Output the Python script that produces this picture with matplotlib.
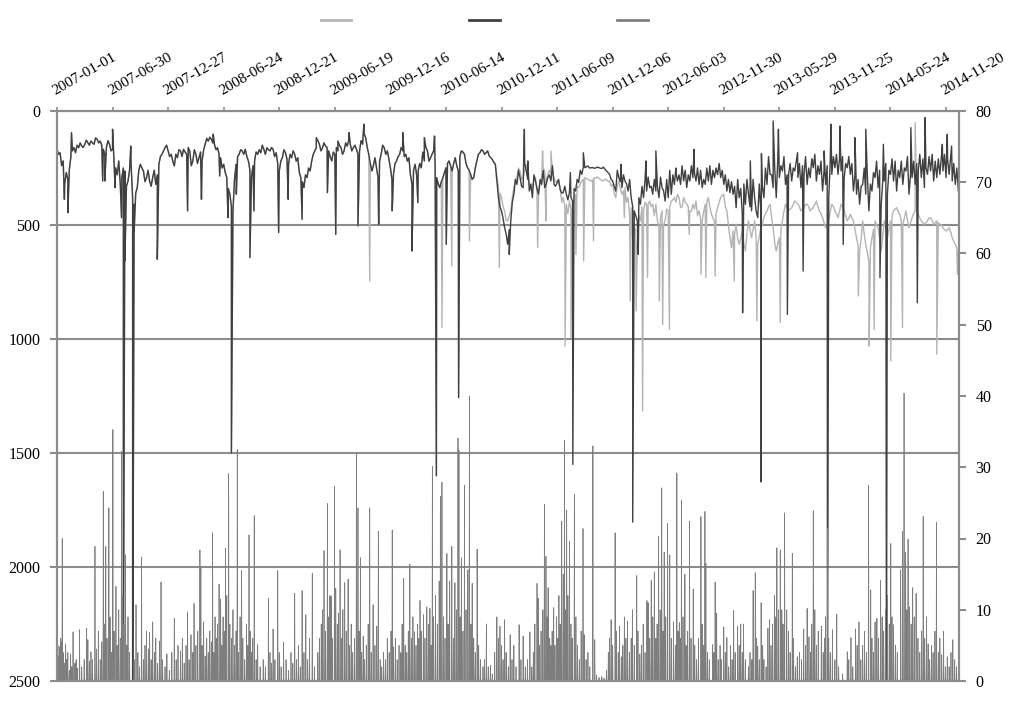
import numpy as np
import matplotlib
matplotlib.use("Agg")
import matplotlib.pyplot as plt
import matplotlib.dates as mdates
from matplotlib.lines import Line2D

START = np.datetime64("2007-01-01")
END = np.datetime64("2014-12-31")

# discharge read every 10 days; both series overlap until late 2010 (days 0..1420)
early_q = [
    168, 183, 219, 270, 256, 175, 183, 161, 154, 146,
    139, 132, 146, 124, 132, 168, 161, 146, 168, 249,
    219, 292, 263, 307, 234, 409, 336, 234, 263, 292,
    307, 292, 322, 234, 190, 161, 175, 190, 241, 205,
    175, 168, 190, 175, 219, 190, 205, 219, 146, 132,
    124, 146, 161, 205, 234, 292, 365, 438, 234, 190,
    175, 168, 219, 292, 219, 190, 183, 168, 161, 175,
    168, 183, 263, 205, 183, 234, 205, 190, 205, 292,
    336, 292, 263, 190, 161, 146, 161, 154, 175, 219,
    190, 175, 161, 175, 154, 146, 161, 168, 175, 146,
    117, 190, 263, 205, 292, 190, 161, 175, 249, 278,
    219, 190, 175, 190, 205, 322, 234, 263, 249, 219,
    175, 205, 175, 292, 336, 292, 249, 219, 263, 205,
    263, 175, 190, 249, 278, 292, 219, 183, 175, 183,
    197, 212, 234,
]
# readings in between (days 5..1415)
early_mid = [
    190, 240, 320, 300, 200, 160, 150, 140, 160, 128,
    150, 140, 118, 140, 150, 190, 130, 175, 230, 280,
    320, 250, 330, 260, 380, 360, 260, 250, 310, 260,
    330, 260, 280, 200, 175, 150, 200, 220, 190, 170,
    200, 180, 160, 240, 170, 230, 180, 170, 120, 115,
    140, 170, 190, 250, 270, 340, 420, 300, 200, 170,
    190, 200, 260, 240, 180, 170, 150, 190, 170, 160,
    200, 230, 220, 170, 210, 190, 175, 220, 270, 310,
    280, 250, 220, 175, 130, 175, 140, 160, 200, 180,
    160, 150, 190, 140, 130, 175, 150, 190, 130, 100,
    160, 230, 240, 250, 220, 150, 190, 210, 300, 230,
    200, 160, 200, 220, 280, 260, 280, 230, 180, 160,
    220, 190, 250, 320, 310, 270, 230, 240, 230, 240,
    200, 180, 230, 260, 300, 250, 190, 170, 190, 175,
    205, 225,
]

# days 1430..2920, every 10 days
late_obs = [
    336, 380, 438, 482, 438, 336, 292, 263, 292, 234,
    322, 336, 292, 351, 292, 263, 278, 278, 292, 307,
    336, 380, 409, 395, 424, 365, 336, 307, 292, 300,
    307, 292, 289, 300, 307, 300, 307, 322, 380, 307,
    365, 336, 380, 424, 512, 585, 482, 438, 409, 395,
    409, 409, 512, 438, 482, 438, 395, 380, 365, 424,
    380, 409, 438, 409, 395, 438, 482, 409, 380, 453,
    482, 424, 380, 365, 438, 556, 526, 497, 585, 526,
    614, 482, 556, 482, 585, 512, 468, 438, 409, 512,
    614, 556, 482, 409, 438, 424, 395, 409, 438, 424,
    409, 438, 424, 395, 438, 468, 512, 482, 409, 438,
    468, 409, 438, 482, 453, 482, 556, 614, 482, 585,
    658, 556, 482, 512, 614, 482, 556, 482, 438, 424,
    453, 497, 438, 512, 468, 438, 453, 482, 497, 482,
    468, 497, 482, 497, 512, 526, 512, 556, 585, 614,
]
# days 1435..2915
late_obs_mid = [
    360, 420, 480, 460, 380, 300, 250, 300, 260, 280,
    340, 300, 360, 320, 250, 300, 260, 270, 310, 320,
    400, 420, 450, 430, 380, 330, 320, 300, 296, 304,
    300, 295, 295, 305, 300, 310, 330, 360, 330, 340,
    350, 400, 460, 560, 520, 460, 420, 400, 410, 420,
    460, 480, 470, 500, 430, 420, 390, 400, 380, 420,
    400, 420, 440, 430, 460, 470, 440, 400, 420, 470,
    450, 400, 370, 420, 500, 600, 540, 560, 560, 580,
    540, 520, 520, 560, 550, 500, 450, 420, 470, 580,
    580, 520, 440, 420, 430, 410, 400, 420, 430, 410,
    420, 430, 410, 420, 450, 490, 500, 440, 420, 450,
    440, 420, 460, 470, 470, 520, 590, 560, 540, 620,
    600, 520, 500, 560, 550, 520, 520, 460, 430, 440,
    480, 470, 480, 490, 450, 440, 470, 490, 490, 470,
    480, 490, 490, 500, 520, 520, 530, 570, 600,
]
late_sim = [
    380, 438, 512, 585, 482, 365, 322, 292, 336, 263,
    351, 380, 307, 365, 322, 336, 292, 307, 322, 314,
    344, 358, 365, 358, 395, 351, 314, 278, 249, 241,
    249, 251, 246, 251, 246, 263, 278, 307, 351, 292,
    336, 307, 351, 380, 438, 482, 409, 380, 351, 336,
    365, 351, 380, 336, 395, 380, 365, 322, 307, 322,
    307, 336, 307, 292, 307, 322, 336, 322, 307, 322,
    292, 278, 292, 322, 351, 358, 365, 424, 380, 453,
    409, 365, 438, 380, 468, 438, 380, 322, 278, 336,
    380, 292, 263, 322, 278, 307, 263, 292, 336, 278,
    322, 292, 249, 307, 278, 351, 322, 380, 278, 249,
    278, 263, 292, 249, 278, 351, 365, 409, 322, 365,
    438, 351, 292, 336, 409, 307, 365, 278, 307, 351,
    292, 322, 263, 365, 292, 322, 263, 292, 336, 278,
    263, 307, 292, 278, 263, 292, 278, 307, 322, 351,
]
late_sim_mid = [
    420, 470, 540, 520, 400, 300, 260, 330, 230, 300,
    320, 280, 340, 300, 260, 320, 280, 240, 330, 300,
    360, 330, 390, 380, 340, 300, 260, 245, 245, 250,
    248, 250, 248, 252, 255, 270, 300, 330, 260, 310,
    280, 320, 300, 420, 460, 380, 330, 300, 290, 330,
    300, 330, 290, 350, 300, 260, 280, 250, 280, 240,
    260, 280, 240, 270, 250, 260, 300, 250, 240, 260,
    250, 230, 260, 280, 300, 310, 330, 300, 340, 320,
    300, 420, 300, 440, 320, 330, 250, 200, 280, 250,
    210, 240, 200, 280, 230, 250, 220, 230, 240, 200,
    250, 210, 190, 240, 220, 260, 240, 220, 200, 190,
    210, 200, 230, 200, 230, 280, 300, 330, 250, 280,
    320, 270, 220, 260, 310, 230, 260, 210, 220, 260,
    220, 250, 200, 280, 220, 230, 190, 210, 250, 200,
    190, 220, 210, 200, 190, 210, 200, 230, 250,
]

# (day since 2007-01-01, value) peaks and dips between the readings
shared_peaks = [
    (24, 387), (35, 446), (47, 95), (148, 307), (155, 307), (180, 80), (188, 336),
    (209, 468), (215, 2600), (220, 658), (239, 154), (245, 2700), (250, 526),
    (325, 650), (423, 438), (468, 387), (506, 102), (527, 285), (554, 468),
    (565, 1500), (581, 365), (625, 643), (638, 438), (718, 533), (749, 387),
    (794, 475), (840, 117), (876, 358), (903, 541), (910, 132), (946, 95),
    (975, 504), (994, 58), (1042, 497), (1086, 438), (1120, 95), (1150, 614),
    (1169, 402), (1190, 117), (1223, 110), (1229, 1600), (1261, 585), (1301, 1257),
]
obs_peaks = [
    (1013, 746), (1247, 950), (1279, 680), (1336, 570), (1433, 687), (1557, 599),
    (1573, 175), (1584, 482), (1600, 175), (1646, 1031), (1665, 994), (1681, 629),
    (1706, 658), (1738, 570), (1838, 468), (1857, 833), (1876, 877), (1897, 1316),
    (1913, 731), (1951, 833), (1962, 936), (1984, 958), (2048, 541), (2086, 716),
    (2102, 731), (2132, 724), (2194, 746), (2267, 921), (2343, 928), (2596, 811),
    (2631, 1031), (2647, 958), (2701, 1097), (2739, 950), (2780, 51), (2850, 1067),
    (2917, 716),
]
sim_peaks = [
    (1465, 629), (1514, 80), (1525, 219), (1663, 270), (1671, 1550), (1705, 183),
    (1827, 234), (1865, 1803), (1883, 629), (1908, 219), (1940, 175), (2005, 270),
    (2064, 168), (2138, 270), (2221, 885), (2246, 219), (2280, 1627), (2282, 187),
    (2320, 44), (2337, 80), (2366, 892), (2399, 183), (2417, 702), (2447, 227),
    (2485, 175), (2496, 2600), (2507, 58), (2536, 66), (2547, 585), (2585, 117),
    (2620, 80), (2666, 731), (2677, 146), (2687, 2600), (2766, 73), (2787, 841),
    (2812, 29), (2868, 146), (2884, 102), (2898, 154),
]

# daily rain (right axis), days not listed had none
rain_events = [
    (0, 2), (3, 5), (6, 3.5), (9, 4.8), (12, 6), (15, 5.5), (17, 20), (20, 4), (24, 2.5),
    (28, 5.2), (31, 3), (35, 4), (40, 1.5), (44, 3.8), (48, 2), (52, 6.9), (58, 2.5),
    (62, 3), (66, 1.8), (73, 7.2), (80, 2), (88, 3), (96, 7.4), (100, 5.8), (105, 2.8),
    (110, 4.1), (115, 3), (123, 18.9), (128, 4.5), (134, 7), (140, 3), (145, 5.5),
    (150, 26.6), (154, 8), (158, 18.9), (162, 6), (168, 24.3), (172, 9), (176, 4),
    (181, 35.3), (185, 7), (191, 13.3), (195, 5), (200, 10), (205, 6), (209, 32.2),
    (213, 12), (217, 8), (222, 17.7), (226, 5), (230, 9), (235, 4), (250, 3),
    (256, 10.7), (262, 4), (267, 2), (274, 17.4), (280, 3),
    (285, 5), (290, 7), (296, 4.5), (300, 6.8), (305, 3), (310, 8.3), (316, 4),
    (320, 6), (326, 2.5), (332, 5.6), (337, 13.9), (342, 3), (350, 2), (356, 3.8),
    (364, 1.5), (372, 4), (380, 8.8), (386, 3), (392, 5),
    (400, 4.2), (406, 6), (412, 2.5), (418, 5), (423, 9.7), (428, 3), (434, 6.5),
    (440, 4), (444, 10.9), (450, 5), (456, 7), (463, 18.4), (466, 16), (470, 5),
    (475, 8.3), (480, 3.5), (485, 6), (490, 4), (495, 7), (500, 5.5), (504, 20.8),
    (508, 4), (512, 9), (516, 6), (520, 8), (525, 13.6), (530, 11.5), (534, 5),
    (538, 9), (542, 7), (546, 18.6), (550, 12), (556, 29.1), (560, 8), (565, 6),
    (570, 10), (575, 5), (580, 7), (584, 32.5), (588, 4), (593, 9), (598, 15.5),
    (602, 6), (608, 3), (614, 8), (618, 5), (622, 20.5), (626, 7), (630, 4), (634, 6),
    (639, 23.2), (645, 3), (650, 5.1), (658, 2),
    (668, 3), (675, 2), (685, 11.6), (690, 4), (695, 2.5), (700, 7.3), (706, 3),
    (715, 15.5), (720, 4), (726, 2), (734, 5.4), (742, 3), (750, 1.5), (758, 4),
    (764, 2.5), (770, 12.3), (776, 3), (782, 5), (788, 2), (794, 12.7), (800, 4),
    (806, 9.3), (812, 3), (818, 6), (827, 15.1), (834, 2),
    (845, 4), (850, 6), (856, 8), (860, 10), (865, 18.3), (870, 7), (876, 24.9),
    (880, 9), (884, 12), (888, 11.9), (892, 6), (899, 27.3), (903, 13), (908, 8),
    (912, 9.5), (917, 18.4), (922, 6), (926, 10), (932, 13.8), (937, 7), (943, 14.3),
    (948, 5), (953, 8), (958, 4), (964, 6), (970, 32), (975, 24.3), (979, 7),
    (983, 17.3), (987, 4), (992, 6.3), (996, 3),
    (1002, 5), (1008, 8), (1013, 24.3), (1018, 4), (1024, 10.7), (1030, 5),
    (1036, 7.7), (1041, 21), (1047, 3), (1052, 2), (1058, 4), (1064, 3), (1070, 6),
    (1076, 4), (1082, 7), (1086, 21.2), (1090, 4.8), (1096, 6), (1102, 3), (1108, 5),
    (1114, 4), (1118, 8), (1123, 14.4), (1128, 5), (1133, 4), (1138, 7), (1143, 16.4),
    (1148, 6), (1153, 9), (1158, 6.9), (1163, 5), (1168, 8), (1172, 6), (1176, 11.3),
    (1180, 7), (1187, 9.3), (1192, 6), (1198, 10.4), (1203, 8), (1208, 10.2),
    (1212, 5), (1216, 30.1), (1220, 9), (1226, 12), (1232, 8), (1238, 14),
    (1242, 25.9), (1247, 27.9), (1252, 9), (1257, 6), (1263, 17.9), (1267, 8),
    (1272, 14), (1279, 18.9), (1284, 6), (1289, 13.8), (1294, 10), (1299, 34.1),
    (1302, 32.4), (1306, 9), (1310, 17.3), (1315, 7), (1320, 27.5), (1325, 10),
    (1331, 15.6), (1336, 40), (1341, 8), (1345, 13.7), (1350, 6), (1355, 4),
    (1361, 18.5), (1366, 5), (1372, 3), (1380, 2),
    (1385, 3), (1391, 8), (1397, 2), (1404, 2.2), (1410, 1), (1418, 4), (1425, 9),
    (1430, 6), (1435, 7.7), (1440, 5), (1445, 3), (1450, 8.6), (1455, 4), (1462, 2),
    (1468, 6.5), (1474, 3), (1480, 5), (1487, 2), (1497, 7.9), (1503, 3), (1510, 6.3),
    (1517, 2), (1524, 3), (1532, 6.9), (1538, 2),
    (1543, 4), (1548, 8), (1555, 13.7), (1559, 11.6), (1563, 5), (1568, 7), (1574, 10),
    (1579, 24.8), (1584, 17.5), (1588, 9), (1591, 13.1), (1596, 6), (1600, 5),
    (1604, 7), (1609, 10.3), (1613, 5), (1618, 9), (1622, 6), (1626, 12), (1630, 8),
    (1635, 22.4), (1640, 15), (1644, 33.8), (1648, 10), (1651, 24), (1655, 12),
    (1660, 19.6), (1665, 8), (1669, 6), (1676, 26.2), (1681, 9), (1686, 5), (1692, 3),
    (1698, 7), (1704, 21.4), (1708, 6.5), (1714, 3), (1720, 4), (1726, 2), (1736, 33),
    (1742, 5.8), (1748, 0.8),
    (1756, 0.5), (1765, 0.6), (1772, 0.4), (1780, 1.5), (1786, 4), (1790, 6),
    (1795, 8.6), (1800, 5), (1808, 20.8), (1812, 7), (1818, 4), (1822, 7.7),
    (1828, 3.4), (1833, 5), (1838, 9), (1843, 6), (1848, 8.4), (1854, 4), (1860, 6),
    (1864, 10), (1870, 5), (1878, 14.8), (1882, 7), (1888, 3.8), (1893, 5), (1899, 8),
    (1905, 4), (1911, 11.3), (1915, 11), (1920, 6), (1925, 14.1), (1930, 9),
    (1935, 15.3), (1940, 6), (1944, 8), (1949, 20.3), (1954, 10), (1959, 27.1),
    (1963, 7), (1967, 18.1), (1972, 9), (1978, 22.1), (1985, 17.7), (1990, 6),
    (1997, 8.3), (2003, 5), (2008, 29.2), (2012, 7), (2016, 8.2), (2020, 6),
    (2023, 25.4), (2028, 9), (2034, 15), (2038, 5), (2043, 7), (2049, 22.4),
    (2054, 6), (2061, 12.9), (2066, 5), (2072, 3), (2078, 6), (2086, 23.1), (2090, 8),
    (2095, 5), (2099, 23.8), (2102, 16.5), (2107, 4), (2113, 3), (2124, 5.1),
    (2128, 4), (2132, 13.9), (2137, 9.5),
    (2142, 3), (2148, 5), (2152, 3), (2160, 7.6), (2165, 4), (2170, 6.1), (2176, 2),
    (2182, 5), (2187, 3), (2192, 9.9), (2197, 4), (2205, 7.7), (2210, 5), (2215, 8),
    (2220, 4), (2224, 8), (2230, 3), (2240, 2), (2245, 4), (2251, 3), (2255, 12.7),
    (2262, 15.2), (2266, 6), (2270, 4.9), (2275, 3), (2281, 11), (2286, 5), (2290, 3),
    (2297, 2), (2303, 7.4), (2308, 8.6), (2313, 5), (2318, 8), (2324, 12), (2328, 9),
    (2332, 18.7), (2337, 10), (2343, 18.4), (2348, 10), (2352, 8), (2357, 23.6),
    (2364, 10), (2370, 7), (2375, 4), (2382, 17.9), (2386, 6), (2392, 2), (2398, 3.4),
    (2405, 4), (2412, 3), (2419, 7.3), (2425, 5), (2430, 10.2), (2436, 6.2), (2441, 4),
    (2445, 8), (2450, 23.9), (2455, 10), (2460, 5), (2466, 7), (2476, 7.7), (2482, 4),
    (2486, 6), (2490, 9), (2496, 21.4), (2500, 6), (2505, 4), (2512, 7.2), (2520, 3),
    (2526, 9.4), (2532, 2),
    (2545, 1), (2560, 4.1), (2565, 3), (2572, 6.1), (2578, 2), (2587, 7.3), (2592, 5),
    (2598, 8.3), (2604, 3), (2610, 5), (2616, 7), (2622, 4), (2629, 27.5),
    (2636, 12.8), (2640, 6), (2645, 4), (2650, 8.3), (2656, 8.8), (2661, 6),
    (2668, 14.1), (2673, 9), (2678, 7), (2684, 10), (2690, 12), (2696, 8),
    (2701, 19.3), (2705, 9), (2710, 7.9), (2716, 5), (2722, 4), (2733, 15.6),
    (2739, 21), (2744, 40.4), (2749, 18.1), (2753, 10), (2757, 19.9), (2762, 10.4),
    (2767, 8), (2772, 13.1), (2777, 9), (2783, 12.3), (2789, 6), (2795, 4), (2801, 7),
    (2806, 23.1), (2811, 6), (2817, 9), (2822, 5.2), (2827, 3), (2833, 5), (2838, 4),
    (2844, 7), (2849, 22.3), (2855, 4), (2860, 6), (2866, 3.7), (2872, 7), (2878, 2),
    (2884, 3.4), (2890, 2), (2896, 4), (2902, 5.8), (2908, 3), (2914, 2),
]

tick_dates = START + np.arange(17) * np.timedelta64(180, "D")
q_ticks = [0, 500, 1000, 1500, 2000, 2500]
rain_ticks = [0, 10, 20, 30, 40, 50, 60, 70, 80]


def merge(parts, peaks):
    # parts: (first day, step, values); peaks: (day, value)
    days, vals = [], []
    for first, step, values in parts:
        days += list(range(first, first + step * len(values), step))
        vals += list(values)
    days += [p[0] for p in peaks]
    vals += [p[1] for p in peaks]
    order = np.argsort(days, kind="stable")
    d = np.array(days)[order]
    return START + d.astype("timedelta64[D]"), np.array(vals, dtype=float)[order]


obs_x, obs_y = merge([(0, 10, early_q), (5, 10, early_mid),
                      (1430, 10, late_obs), (1435, 10, late_obs_mid)],
                     shared_peaks + obs_peaks)
sim_x, sim_y = merge([(0, 10, early_q), (5, 10, early_mid),
                      (1430, 10, late_sim), (1435, 10, late_sim_mid)],
                     shared_peaks + sim_peaks)

n_days = int((END - START) / np.timedelta64(1, "D")) + 1
rain = np.zeros(n_days)
for d, v in rain_events:
    rain[d] = v
rain_x = START + np.arange(n_days).astype("timedelta64[D]")

plt.rcParams["font.family"] = ["Liberation Serif", "DejaVu Serif"]
GRID = "#8c8c8c"
C_OBS, C_SIM, C_RAIN = "#b4b4b4", "#404040", "#7e7e7e"

fig = plt.figure(figsize=(10.24, 7.07), dpi=100)
ax = fig.add_axes([57 / 1024, 1 - 681 / 707, 902 / 1024, 570 / 707])

ax.plot(obs_x, obs_y, color=C_OBS, lw=1.0)
ax.plot(sim_x, sim_y, color=C_SIM, lw=1.0)
ax.set_ylim(2500, 0)
ax.set_yticks(q_ticks)
ax.set_xlim(START, END + np.timedelta64(1, "D"))
ax.yaxis.grid(True, color=GRID, lw=1.5)
ax.set_axisbelow(True)

ax.xaxis.tick_top()
ax.set_xticks(mdates.date2num(tick_dates))
ax.set_xticklabels([str(t) for t in tick_dates], rotation=30, ha="left",
                   va="bottom", rotation_mode="anchor", fontsize=11)
ax.tick_params(axis="x", direction="out", length=3, width=1.2, color=GRID, pad=7)
ax.tick_params(axis="y", direction="out", length=5, width=1.5, color=GRID,
               pad=7, labelsize=11.5)

ax2 = ax.twinx()
ax2.plot(rain_x, rain, color=C_RAIN, lw=0.55)
ax2.set_ylim(0, 80)
ax2.set_yticks(rain_ticks)
ax2.tick_params(axis="y", direction="out", length=5, width=1.5, color=GRID,
                pad=7, labelsize=11.5)

for a in (ax, ax2):
    for s in a.spines.values():
        s.set_color(GRID)
        s.set_linewidth(1.5)

handles = [Line2D([], [], color=c, lw=2) for c in (C_OBS, C_SIM, C_RAIN)]
fig.legend(handles, ["", "", ""], loc="center", bbox_to_anchor=(0.473, 0.970),
           ncol=3, frameon=False, handlelength=2, handletextpad=0,
           columnspacing=7.7, fontsize=11)

fig.savefig("out.png", dpi=100)
